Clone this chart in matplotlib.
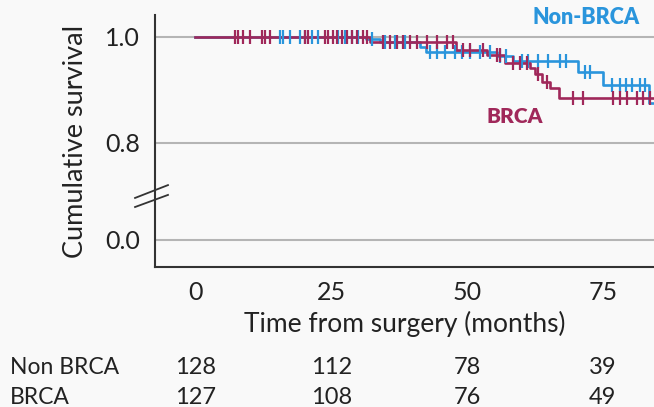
import numpy as np
import matplotlib
matplotlib.use("Agg")
import matplotlib.pyplot as plt
from matplotlib.transforms import blended_transform_factory

plt.rcParams['font.family'] = ['Lato', 'DejaVu Sans']

# Kaplan-Meier steps (time in months, survival after step)
nonbrca_t = [0, 31.5, 34.0, 41.3, 42.5, 55.5, 58.5, 70.5, 75.0, 83.5, 85.0]
nonbrca_s = [1.0, 0.996, 0.991, 0.981, 0.972, 0.965, 0.955, 0.934, 0.909, 0.875, 0.875]
brca_t = [0, 32.2, 48.0, 53.6, 57.0, 61.6, 62.5, 63.8, 65.3, 67.0, 85.0]
brca_s = [1.0, 0.990, 0.975, 0.966, 0.951, 0.941, 0.930, 0.916, 0.903, 0.885, 0.885]

# censored observations (months)
nonbrca_cens = [15.6, 16.2, 17.5, 19.3, 20.2, 21.5, 22.6, 26.3, 27.6, 28.9, 30.0,
                32.5, 34.9, 36.8, 38.6, 43.2, 44.5, 46.0, 47.8, 49.1, 50.6, 52.4,
                54.2, 56.1, 57.2, 60.1, 61.2, 63.1, 64.9, 67.1, 68.2, 71.7, 72.6,
                76.7, 78.1, 79.2, 80.3, 81.8, 82.7]
brca_cens = [7.4, 7.9, 8.8, 10.1, 12.3, 12.9, 13.8, 20.2, 20.8, 23.9, 24.4, 25.4,
             26.1, 27.0, 27.9, 28.9, 29.8, 30.9, 31.6, 34.6, 35.8, 37.1, 38.2, 39.5,
             40.8, 42.6, 44.5, 46.3, 47.4, 49.3, 50.6, 52.9, 55.5, 56.1, 58.5, 59.7,
             61.0, 63.1, 64.7, 69.5, 71.3, 76.8, 78.1, 79.4, 81.3, 82.4, 83.6]

risk_times = [0, 25, 50, 75]
risk_nonbrca = [128, 112, 78, 39]
risk_brca = [127, 108, 76, 49]

blue = '#2a95dc'
pink = '#a0285a'
bg = '#f9f9f9'
txt = '#222222'


def fwd(y):
    y = np.asarray(y, dtype=float)
    return np.where(y >= 0.8, 97 + (y - 0.8) * 530, y * 97 / 0.8)


def inv(u):
    u = np.asarray(u, dtype=float)
    return np.where(u >= 97, 0.8 + (u - 97) / 530, u * 0.8 / 97)


def surv_at(times, surv, t):
    idx = np.searchsorted(times, t, side='right') - 1
    return np.asarray(surv)[idx]


fig = plt.figure(figsize=(6.54, 4.07), dpi=100, facecolor=bg)
ax = fig.add_axes([155 / 654, 1 - 267 / 407, 499 / 654, 252 / 407], facecolor=bg)
ax.set_yscale('function', functions=(fwd, inv))

for yv in [0.0, 0.8, 1.0]:
    ax.axhline(yv, color='#b5b5b5', lw=1.5, zorder=1)

for t, s, c, cens in [(nonbrca_t, nonbrca_s, blue, nonbrca_cens),
                      (brca_t, brca_s, pink, brca_cens)]:
    ax.step(t, s, where='post', color=c, lw=1.9, zorder=3)
    ax.plot(cens, surv_at(t, s, cens), ls='none', marker='|', ms=10, mew=1.6,
            color=c, zorder=4)

ax.set_xlim(-7.4, 84.4)
ax.set_ylim(-0.2227, 1.0415)
ax.set_yticks([0.0, 0.8, 1.0])
ax.set_yticklabels(['0.0', '0.8', '1.0'])
ax.set_xticks(risk_times)
ax.tick_params(length=0, labelsize=18, colors=txt)
ax.tick_params(axis='x', pad=10)
ax.tick_params(axis='y', pad=11)
ax.spines['top'].set_visible(False)
ax.spines['right'].set_visible(False)
for sp in ['left', 'bottom']:
    ax.spines[sp].set_color('#333333')
    ax.spines[sp].set_linewidth(1.5)

ax.set_ylabel('Cumulative survival', fontsize=19.5, color=txt, labelpad=12)
ax.set_xlabel('Time from surgery (months)', fontsize=19, color=txt, labelpad=5)

# axis break marks
for y0, y1 in [(0.274, 0.325), (0.238, 0.286)]:
    ax.plot([-0.040, 0.026], [y0, y1], transform=ax.transAxes, color='#333333',
            lw=1.3, clip_on=False, zorder=5)

ax.text(0.972, 0.992, 'Non-BRCA', transform=ax.transAxes, color=blue,
        fontsize=15.5, fontweight='heavy', ha='right', va='center')
ax.text(0.721, 0.599, 'BRCA', transform=ax.transAxes, color=pink,
        fontsize=15, fontweight='heavy', ha='center', va='center')

# number at risk table
tr = blended_transform_factory(ax.transData, fig.transFigure)
for label, vals, yy in [('Non BRCA', risk_nonbrca, 1 - 367 / 407),
                        ('BRCA', risk_brca, 1 - 397 / 407)]:
    fig.text(10 / 654, yy, label, fontsize=16.5, color=txt, va='center', ha='left')
    for t, v in zip(risk_times, vals):
        ax.text(t, yy, str(v), transform=tr, fontsize=17, color=txt,
                ha='center', va='center', clip_on=False)

fig.savefig('out.png', dpi=100, facecolor=bg)
